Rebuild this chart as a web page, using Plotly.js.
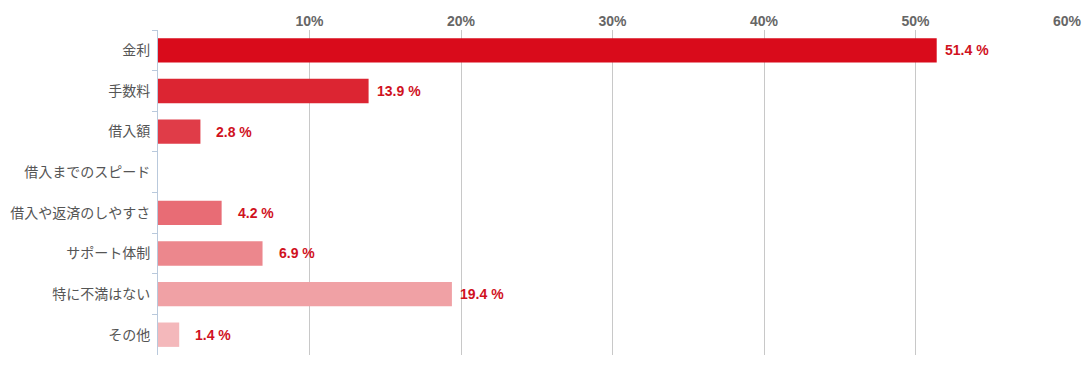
<!DOCTYPE html>
<html>
<head>
<meta charset="utf-8">
<script src="https://cdn.plot.ly/plotly-3.0.1.min.js"></script>
<style>html,body{margin:0;padding:0;background:#fff;}#chart{width:1088px;height:369px;}</style>
</head>
<body>
<div id="chart"></div>
<script>
const categories = ["金利", "手数料", "借入額", "借入までのスピード", "借入や返済のしやすさ", "サポート体制", "特に不満はない", "その他"];
const values = [51.4, 13.9, 2.8, 0, 4.2, 6.9, 19.4, 1.4];
const labels = ["51.4 %", "13.9 %", "2.8 %", "", "4.2 %", "6.9 %", "19.4 %", "1.4 %"];
const barColors = ["#d90b1b", "#dc2532", "#e03c48", "#e45561", "#e86c75", "#ec878d", "#f0a1a5", "#f4b8bb"];
const tickVals = [10, 20, 30, 40, 50, 60];
const tickText = ["10%", "20%", "30%", "40%", "50%", "60%"];

const trace = {
  type: "bar",
  orientation: "h",
  y: categories,
  x: values,
  marker: {color: barColors},
  hoverinfo: "none"
};

const annotations = [];
values.forEach((v, i) => {
  if (labels[i]) {
    annotations.push({
      x: v, y: categories[i], xref: "x", yref: "y",
      text: labels[i], showarrow: false,
      xanchor: "right", xshift: 54,
      font: {family: "Liberation Sans, Arial, sans-serif", size: 14, color: "#d0121e", weight: "bold"}
    });
  }
});

const layout = {
  width: 1088, height: 369,
  margin: {l: 158, r: 21, t: 30, b: 14, pad: 0},
  paper_bgcolor: "#fff", plot_bgcolor: "#fff",
  showlegend: false,
  bargap: 0.4,
  xaxis: {
    side: "top", range: [0, 60], tickvals: tickVals, ticktext: tickText,
    showgrid: true, gridcolor: "#c8c8c8", gridwidth: 1,
    zeroline: false, showline: false, ticks: "",
    tickfont: {family: "Liberation Sans, Arial, sans-serif", size: 14, color: "#666", weight: "bold"}
  },
  yaxis: {
    autorange: "reversed", type: "category",
    showline: true, linecolor: "#b9c9dc", linewidth: 1,
    ticks: "outside", tickson: "boundaries", ticklen: 5, tickcolor: "#b9c9dc",
    showgrid: false, zeroline: false,
    ticklabelstandoff: 4,
    tickfont: {family: "Noto Sans CJK JP, sans-serif", size: 14, color: "#555"}
  },
  annotations: annotations
};

Plotly.newPlot("chart", [trace], layout, {displayModeBar: false, staticPlot: true});
</script>
</body>
</html>
